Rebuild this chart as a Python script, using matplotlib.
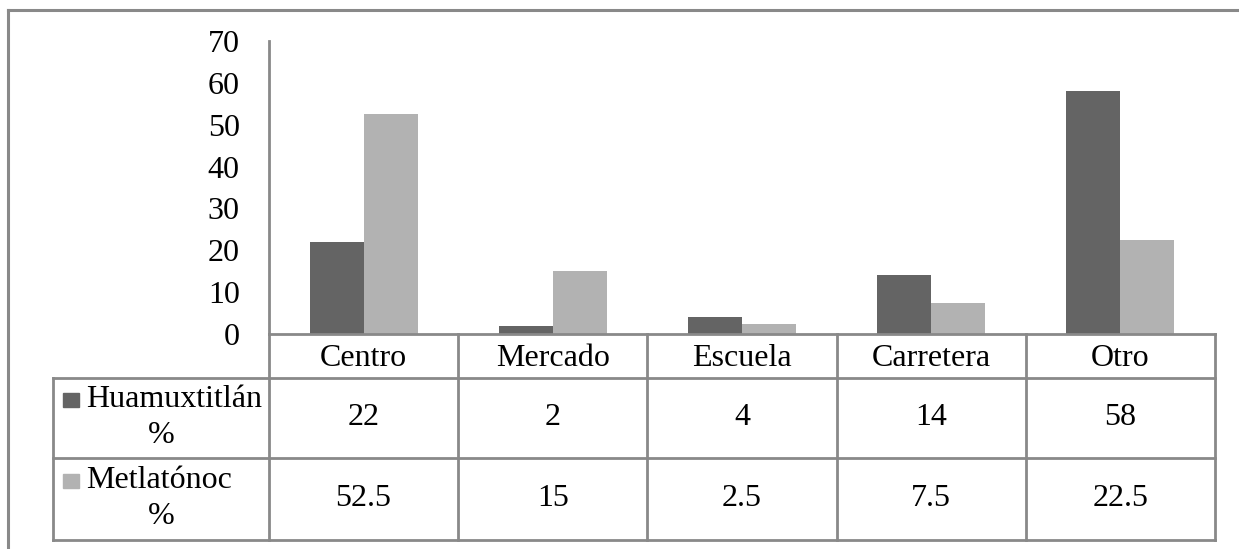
import matplotlib.pyplot as plt
from matplotlib.lines import Line2D
from matplotlib.patches import Rectangle

plt.rcParams['font.family'] = ['Liberation Serif', 'DejaVu Serif']

categorias = ['Centro', 'Mercado', 'Escuela', 'Carretera', 'Otro']
series = ['Huamuxtitlán\n%', 'Metlatónoc\n%']
huamuxtitlan = [22, 2, 4, 14, 58]
metlatonoc = [52.5, 15, 2.5, 7.5, 22.5]
yticks = [0, 10, 20, 30, 40, 50, 60, 70]

colores = ['#646464', '#b2b2b2']
gris = '#898989'
fs = 23

W, H = 1239, 549
fig = plt.figure(figsize=(W / 100, H / 100), dpi=100)

# marco exterior (sólo arriba e izquierda quedan dentro del recorte)
fig.add_artist(Line2D([8 / W, 1], [1 - 10 / H, 1 - 10 / H], color=gris, lw=2.2))
fig.add_artist(Line2D([8 / W, 8 / W], [0, 1 - 10 / H], color=gris, lw=2.2))

# área del gráfico en píxeles
x0, x1 = 269, 1215
y_top, y_zero = 41, 334
ax = fig.add_axes([x0 / W, 1 - y_zero / H, (x1 - x0) / W, (y_zero - y_top) / H])

n = len(categorias)
w = 0.285
pos = list(range(n))
ax.bar([p - w / 2 for p in pos], huamuxtitlan, w, color=colores[0], zorder=2)
ax.bar([p + w / 2 for p in pos], metlatonoc, w, color=colores[1], zorder=2)

ax.set_xlim(-0.5, n - 0.5)
ax.set_ylim(0, 70)
ax.set_yticks(yticks)
ax.set_yticklabels([str(t) for t in yticks], fontsize=fs)
ax.set_xticks([])
ax.tick_params(axis='y', length=0, pad=21)
for s in ['top', 'right']:
    ax.spines[s].set_visible(False)
for s in ['left', 'bottom']:
    ax.spines[s].set_color(gris)
    ax.spines[s].set_linewidth(2)

# tabla de datos bajo el eje, coordenadas x del eje y píxeles en y
px_per = (x1 - x0) / n
left_tab = 53
tx0 = -0.5 - (x0 - left_tab) / px_per
tab = fig.add_axes([left_tab / W, 1 - 540 / H, (x1 - left_tab) / W, (540 - y_zero) / H])
tab.set_xlim(tx0, n - 0.5)
tab.set_ylim(540, y_zero)
tab.axis('off')

filas = [y_zero, 378, 458, 540]
kw = dict(color=gris, lw=2, clip_on=False)
for y in filas[1:]:
    tab.plot([tx0, n - 0.5], [y, y], **kw)
tab.plot([tx0, tx0], [filas[1], filas[3]], **kw)
for b in range(n + 1):
    tab.plot([b - 0.5, b - 0.5], [filas[0], filas[3]], **kw)

for i, c in enumerate(categorias):
    tab.text(i, (filas[0] + filas[1]) / 2 + 3, c, ha='center', va='center', fontsize=fs)

for r, (nombre, vals) in enumerate(zip(series, [huamuxtitlan, metlatonoc])):
    ya, yb = filas[r + 1], filas[r + 2]
    yc = (ya + yb) / 2
    for i, v in enumerate(vals):
        tab.text(i, yc, f'{v:g}', ha='center', va='center', fontsize=fs)
    # clave de la leyenda y nombre de la serie
    k = 16 / px_per
    tab.add_patch(Rectangle((tx0 + 10 / px_per, yc - 25), k, 14,
                            color=colores[r], clip_on=False))
    linea1, linea2 = nombre.split('\n')
    tab.text(tx0 + 33 / px_per, yc - 18, linea1, ha='left', va='center', fontsize=fs)
    tab.text(-0.5 - (x0 - left_tab) / px_per / 2, yc + 18, linea2,
             ha='center', va='center', fontsize=fs)

fig.savefig('out.png', dpi=100)
